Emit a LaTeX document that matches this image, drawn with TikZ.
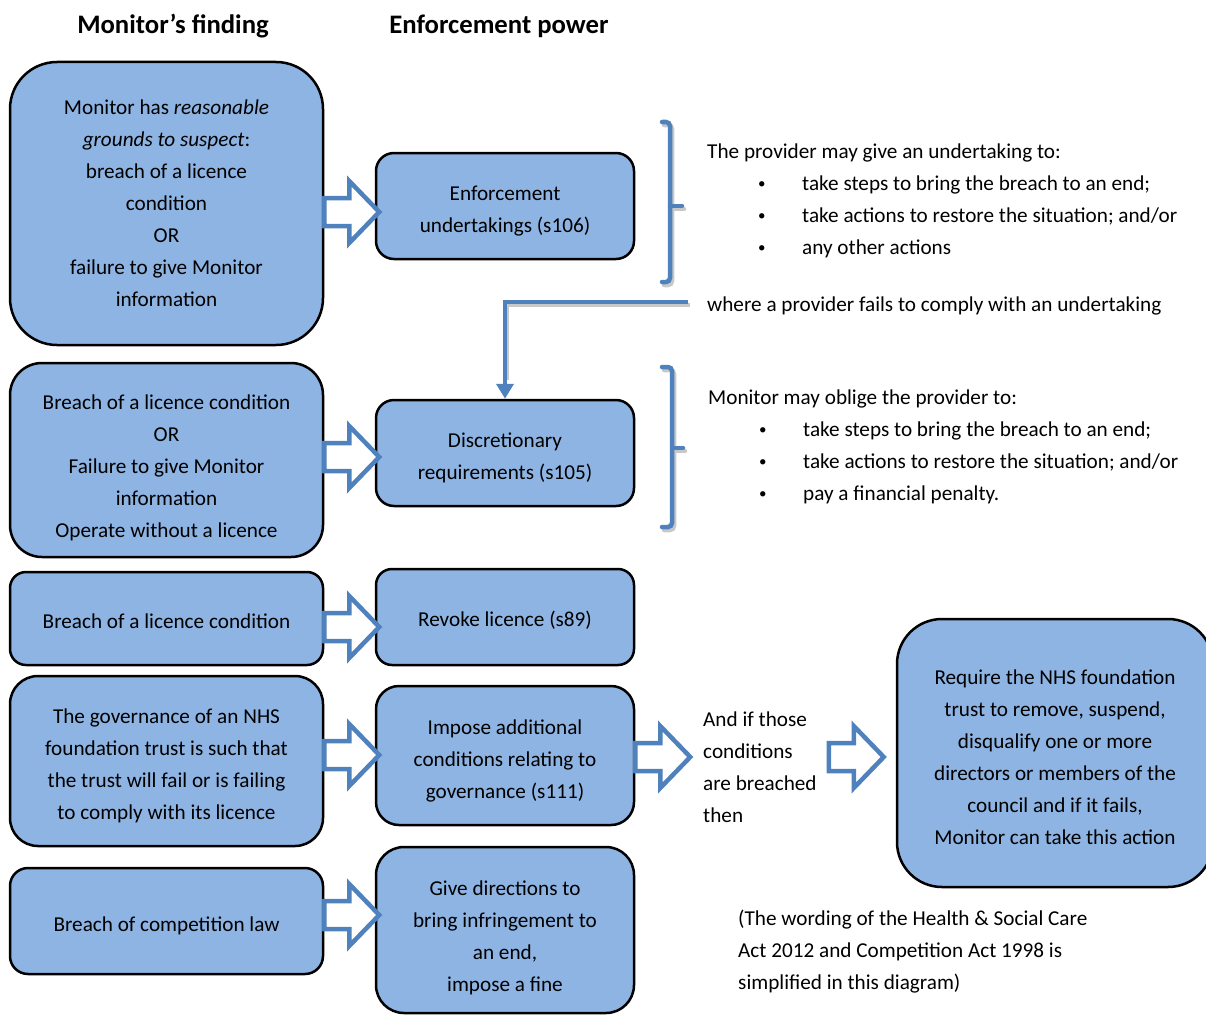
\documentclass[tikz,border=0pt]{standalone}
\usepackage{fontspec}
\setmainfont{Carlito}
\usetikzlibrary{arrows.meta,positioning,calc}
\definecolor{boxblue}{HTML}{8EB4E3}
\definecolor{arrblue}{HTML}{4F81BD}
\definecolor{shadowgray}{HTML}{C8C8C8}
\newcommand{\bodyfont}{\fontsize{21.2pt}{32pt}\selectfont}
\newcommand{\headfont}{\fontsize{26.7pt}{32pt}\selectfont\bfseries}
\newcommand{\bul}{\hspace*{51pt}\makebox[44pt][l]{\raisebox{2pt}{\fontsize{15pt}{15pt}\selectfont\textbullet}}}
\newcommand{\drop}[1][25pt]{\rule{0pt}{#1}}

\begin{document}
\begin{tikzpicture}[x=1pt, y=-1pt, every node/.style={font=\bodyfont},
  finding/.style={draw=black, line width=2.5pt, fill=boxblue, align=center,
    minimum width=313pt, inner sep=0pt},
  power/.style={finding, minimum width=258pt},
  note/.style={align=left, anchor=west, inner sep=0pt},
  bracket/.style={arrblue, line width=4.5pt, line cap=round, rounded corners=4pt},
  bracketshadow/.style={bracket, shadowgray, transform canvas={xshift=2pt, yshift=-3pt}},
  blockarr/.pic={
    \draw[arrblue, line width=4.5pt, fill=white]
      (0,-14) -- (25,-14) -- (25,-31) -- (55,0) -- (25,31) -- (25,14) -- (0,14) -- cycle;
  }]

  \useasboundingbox (0,0) rectangle (1206,1014);

  % ---- Column headings ----
  \node[font=\headfont] (findhead) at (173,26) {Monitor’s finding};
  \node[font=\headfont] (powerhead) at (499,26) {Enforcement power};

  % ---- Monitor's findings (left column) ----
  \node[finding, minimum height=283pt, rounded corners=47pt] (l1) at (166.5,203.5)
    {Monitor has \textit{reasonable}\\ \textit{grounds to suspect}:\\ breach of a licence\\
     condition\\ OR\\ failure to give Monitor\\ information};
  \node[finding, minimum height=194pt, rounded corners=32pt] (l2) at (166.5,460)
    {\drop[31pt]Breach of a licence condition\\ OR\\ Failure to give Monitor\\ information\\
     Operate without a licence};
  \node[finding, minimum height=93pt, rounded corners=16pt] (l3) at (166.5,618.5)
    {\drop[21pt]Breach of a licence condition};
  \node[finding, minimum height=170pt, rounded corners=28pt] (l4) at (166.5,761)
    {\drop The governance of an NHS\\ foundation trust is such that\\
     the trust will fail or is failing\\ to comply with its licence};
  \node[finding, minimum height=106pt, rounded corners=18pt] (l5) at (166.5,921)
    {\drop[24pt]Breach of competition law};

  % ---- Enforcement powers (middle column) ----
  \node[power, minimum height=106pt, rounded corners=18pt] (m1) at (505,206)
    {\drop Enforcement\\ undertakings (s106)};
  \node[power, minimum height=106pt, rounded corners=18pt] (m2) at (505,453)
    {\drop Discretionary\\ requirements (s105)};
  \node[power, minimum height=96pt, rounded corners=16pt] (m3) at (505,617)
    {\drop[22pt]Revoke licence (s89)};
  \node[power, minimum height=139pt, rounded corners=23pt] (m4) at (505,755.5)
    {\drop Impose additional\\ conditions relating to\\ governance (s111)};
  \node[power, minimum height=166pt, rounded corners=28pt] (m5) at (505,930)
    {\drop[31pt]Give directions to\\ bring infringement to\\ an end,\\ impose a fine};

  % ---- Further action (right) ----
  \node[finding, minimum width=316pt, minimum height=268pt, rounded corners=45pt] (rbox) at (1055,753)
    {\drop[23pt]Require the NHS foundation\\ trust to remove, suspend,\\ disqualify one or more\\
     directors or members of the\\ council and if it fails,\\ Monitor can take this action};

  % ---- Block arrows ----
  \pic at ($(l1.east)+(0,8.5)$) {blockarr};
  \pic at ($(l2.east)+(0,-3)$) {blockarr};
  \pic at ($(l3.east)+(0,8.5)$) {blockarr};
  \pic at ($(l4.east)+(0,-6)$) {blockarr};
  \pic at ($(l5.east)+(0,-6)$) {blockarr};
  \pic at ($(m4.east)+(0,1.5)$) {blockarr};
  \pic at ($(rbox.west)+(-67,4)$) {blockarr};

  % ---- Explanatory text ----
  \node[note] (undertaking) at (707,201)
    {The provider may give an undertaking to:\\
     \bul take steps to bring the breach to an end;\\
     \bul take actions to restore the situation; and/or\\
     \bul any other actions};
  \node[note] (fails) at (707,306) {where a provider fails to comply with an undertaking};
  \node[note] (oblige) at (708,447)
    {Monitor may oblige the provider to:\\
     \bul take steps to bring the breach to an end;\\
     \bul take actions to restore the situation; and/or\\
     \bul pay a financial penalty.};
  \node[note] (breached) at (703,767) {And if those\\ conditions\\ are breached\\ then};
  \node[note] (wording) at (738,952)
    {(The wording of the Health \& Social Care\\ Act 2012 and Competition Act 1998 is\\
     simplified in this diagram)};

  % ---- Brackets ----
  \draw[bracketshadow] (662,122) -- (670,122) -- (670,282) -- (662,282);
  \draw[bracketshadow] (670,206) -- (682,206);
  \draw[bracket] (662,122) -- (670,122) -- (670,282) -- (662,282);
  \draw[bracket] (670,206) -- (682,206);

  \draw[bracketshadow] (662,367) -- (672,367) -- (672,527) -- (662,527);
  \draw[bracketshadow] (672,448) -- (683,448);
  \draw[bracket] (662,367) -- (672,367) -- (672,527) -- (662,527);
  \draw[bracket] (672,448) -- (683,448);

  % ---- Failure to comply leads to requirements ----
  \coordinate (bendstart) at (688,302);
  \draw[bracketshadow, line cap=butt, rounded corners=0pt] (bendstart) -| ($(m2.north)+(0,-22)$);
  \draw[arrblue, line width=4.5pt, -{Triangle[width=17pt, length=15pt]}]
    (bendstart) -| (m2.north);

\end{tikzpicture}
\end{document}
